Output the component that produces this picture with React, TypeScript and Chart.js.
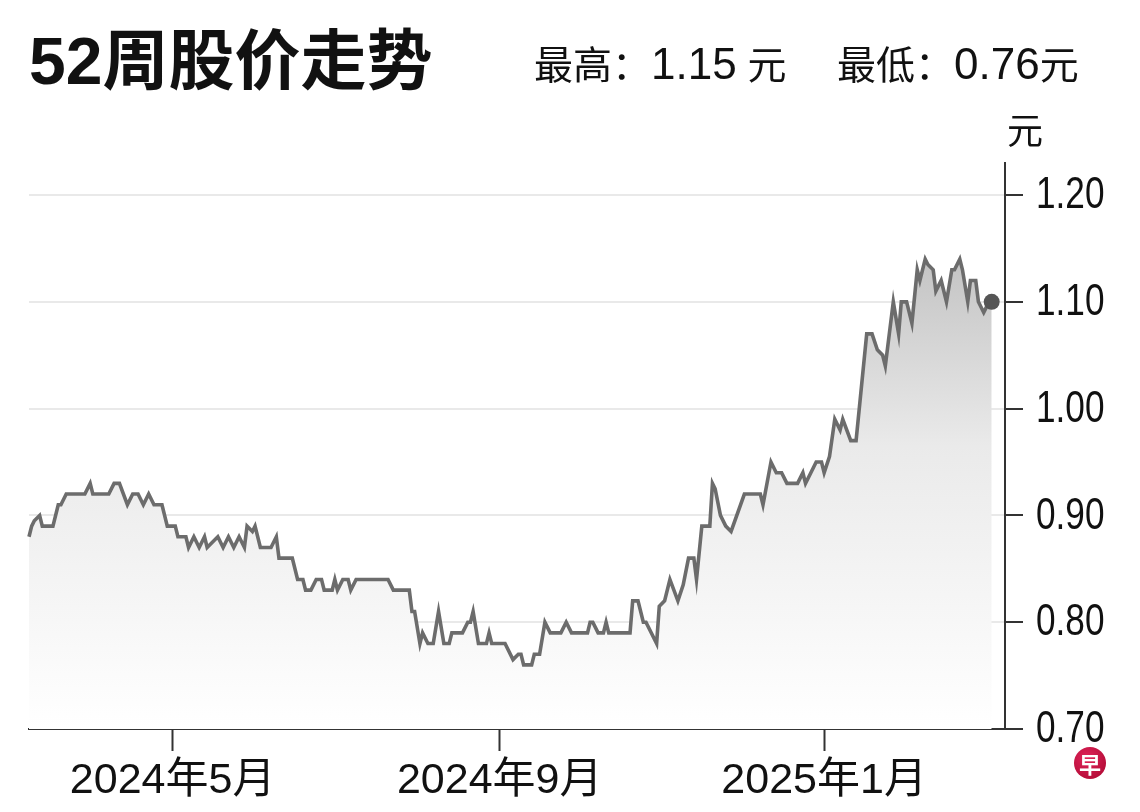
import React, { useEffect, useRef } from "react";
import { Chart, registerables } from "chart.js";

Chart.register(...registerables);

// ---- data ----
const START_DATE = "2024-03-08";
const dayOffsets = [
  0, 1, 2, 4, 5, 9, 11, 12, 14, 21, 23, 24, 30, 32, 34, 37, 39, 41, 43, 45, 47, 50, 52, 55, 56, 59, 60, 62, 64, 66, 67,
  71, 73, 75, 77, 79, 81, 82, 84, 85, 87, 91, 93, 94, 99, 101, 103, 104, 106, 108, 110, 111, 114, 115, 116, 118, 120,
  121, 123, 135, 137, 143, 144, 145, 147, 148, 150, 152, 154, 156, 158, 159, 163, 165, 166, 167, 169, 172, 173, 174,
  179, 182, 184, 185, 186, 189, 190, 192, 194, 196, 200, 202, 204, 210, 211, 212, 214, 216, 217, 218, 226, 227, 229,
  231, 232, 236, 237, 239, 241, 244, 246, 248, 250, 251, 253, 256, 257, 258, 260, 262, 264, 269, 275, 276, 279, 281,
  283, 285, 289, 291, 292, 294, 296, 298, 299, 301, 303, 305, 306, 309, 311, 315, 317, 319, 321, 322, 325, 327, 328,
  330, 332, 334, 335, 337, 338, 340, 341, 343, 345, 347, 348, 350, 351, 353, 354, 356, 357, 359, 360, 362,
];
const prices = [
  0.88, 0.89, 0.895, 0.9, 0.89, 0.89, 0.91, 0.91, 0.92, 0.92, 0.93, 0.92, 0.92, 0.93, 0.93, 0.91, 0.92, 0.92, 0.91, 0.92,
  0.91, 0.91, 0.89, 0.89, 0.88, 0.88, 0.87, 0.88, 0.87, 0.88, 0.87, 0.88, 0.87, 0.88, 0.87, 0.88, 0.87, 0.89, 0.885,
  0.89, 0.87, 0.87, 0.88, 0.86, 0.86, 0.84, 0.84, 0.83, 0.83, 0.84, 0.84, 0.83, 0.83, 0.84, 0.83, 0.84, 0.84, 0.83,
  0.84, 0.84, 0.83, 0.83, 0.81, 0.81, 0.78, 0.79, 0.78, 0.78, 0.81, 0.78, 0.78, 0.79, 0.79, 0.8, 0.8, 0.81, 0.78, 0.78,
  0.79, 0.78, 0.78, 0.765, 0.77, 0.77, 0.76, 0.76, 0.77, 0.77, 0.8, 0.79, 0.79, 0.8, 0.79, 0.79, 0.8, 0.8, 0.79, 0.79,
  0.8, 0.79, 0.79, 0.82, 0.82, 0.8, 0.8, 0.78, 0.815, 0.82, 0.84, 0.82, 0.835, 0.86, 0.86, 0.84, 0.89, 0.89, 0.93,
  0.925, 0.9, 0.89, 0.885, 0.92, 0.92, 0.91, 0.95, 0.94, 0.94, 0.93, 0.93, 0.94, 0.93, 0.94, 0.95, 0.95, 0.94, 0.955,
  0.99, 0.98, 0.99, 0.97, 0.97, 1.07, 1.07, 1.055, 1.05, 1.04, 1.1, 1.07, 1.1, 1.1, 1.08, 1.13, 1.12, 1.14, 1.135, 1.13,
  1.11, 1.12, 1.1, 1.13, 1.13, 1.14, 1.13, 1.1, 1.12, 1.12, 1.1, 1.09, 1.095, 1.1,
];
const xTickDates = ["2024-05-01", "2024-09-01", "2025-01-01"];
const xTickLabels = ["2024年5月", "2024年9月", "2025年1月"];
const yTickValues = [0.7, 0.8, 0.9, 1.0, 1.1, 1.2];
const TITLE = "52周股价走势";
const HIGH_LABEL = "最高：";
const HIGH_VALUE = "1.15";
const LOW_LABEL = "最低：";
const LOW_VALUE = "0.76";
const UNIT = "元";

const dayMs = 86400000;
const toDays = (d: string) => Math.round((Date.parse(d + "T00:00:00Z") - Date.parse(START_DATE + "T00:00:00Z")) / dayMs);
const xTickValues = xTickDates.map(toDays);

// narrow y-axis tick labels (the reference uses a condensed face)
const narrowYLabels = {
  id: "narrowYLabels",
  afterDraw(chart: any) {
    const y = chart.scales.y;
    const { ctx, chartArea } = chart;
    ctx.save();
    ctx.font = "44px 'Liberation Sans', Arial, sans-serif";
    ctx.fillStyle = "#111";
    ctx.textBaseline = "middle";
    ctx.textAlign = "left";
    for (const v of yTickValues) {
      const py = y.getPixelForValue(v);
      ctx.save();
      ctx.translate(chartArea.right + 31, py + 1);
      ctx.scale(0.8, 1);
      ctx.fillText(v.toFixed(2), 0, 0);
      ctx.restore();
    }
    ctx.restore();
  },
};

export default function App() {
  const ref = useRef<HTMLCanvasElement | null>(null);

  useEffect(() => {
    if (!ref.current) return;
    const lastIdx = prices.length - 1;
    const chart = new Chart(ref.current, {
      type: "line",
      data: {
        datasets: [
          {
            data: dayOffsets.map((d, i) => ({ x: d, y: prices[i] })),
            borderColor: "#6c6c6c",
            borderWidth: 3.6,
            tension: 0,
            fill: "start",
            backgroundColor: (c: any) => {
              const { chart: ch } = c;
              const area = ch.chartArea;
              if (!area) return "rgba(0,0,0,0)";
              const g = ch.ctx.createLinearGradient(0, area.top, 0, area.bottom);
              g.addColorStop(0, "rgb(176,176,176)");
              g.addColorStop(0.5, "rgb(234,234,234)");
              g.addColorStop(1, "rgb(255,255,255)");
              return g;
            },
            pointRadius: (c: any) => (c.dataIndex === lastIdx ? 8 : 0),
            pointHoverRadius: 0,
            pointBackgroundColor: "#555",
            pointBorderWidth: 0,
            clip: false as any,
          },
        ],
      },
      options: {
        animation: false,
        responsive: false,
        devicePixelRatio: 1,
        events: [],
        layout: { padding: { left: 29, top: 163, right: 0, bottom: 0 } },
        plugins: { legend: { display: false }, tooltip: { enabled: false } },
        scales: {
          x: {
            type: "linear",
            min: 0,
            max: 367,
            afterBuildTicks: (s: any) => {
              s.ticks = xTickValues.map((v) => ({ value: v }));
            },
            afterFit: (s: any) => {
              s.height = 83;
            },
            ticks: {
              autoSkip: false,
              maxRotation: 0,
              padding: 4,
              color: "#111",
              font: { family: "'Liberation Sans', 'Noto Sans CJK SC', sans-serif", size: 43 },
              callback: (v: any) => {
                const i = xTickValues.indexOf(Number(v));
                return i >= 0 ? xTickLabels[i] : "";
              },
            },
            grid: { drawOnChartArea: false, drawTicks: true, tickLength: 22, tickColor: "#333", tickWidth: 2 },
            border: { display: true, color: "#333", width: 2 },
          },
          y: {
            type: "linear",
            position: "right",
            min: 0.7,
            max: 1.23,
            afterBuildTicks: (s: any) => {
              s.ticks = yTickValues.map((v) => ({ value: v }));
            },
            afterFit: (s: any) => {
              s.width = 135;
            },
            ticks: { display: false },
            grid: {
              color: (c: any) => (c.tick && c.tick.value <= 0.7001 ? "rgba(0,0,0,0)" : "#e9e9e9"),
              lineWidth: 2,
              drawTicks: true,
              tickLength: 18,
              tickColor: "#333",
              tickWidth: 2,
            },
            border: { display: true, color: "#333", width: 2 },
          },
        },
      },
      plugins: [narrowYLabels],
    } as any);
    return () => chart.destroy();
  }, []);

  const cjk = "'Liberation Sans', 'Noto Sans CJK SC', sans-serif";
  const num = { fontSize: 44 };
  return (
    <div style={{ position: "absolute", left: 0, top: 0, width: 1140, height: 812, background: "#fff", overflow: "hidden" }}>
      <canvas ref={ref} width={1140} height={812} style={{ position: "absolute", left: 0, top: 0, width: 1140, height: 812 }} />
      <div style={{ position: "absolute", left: 29, top: 28, fontFamily: cjk, fontWeight: 700, fontSize: 66, lineHeight: "66px", color: "#111", whiteSpace: "nowrap" }}>
        {TITLE}
      </div>
      <div style={{ position: "absolute", left: 534, top: 42, fontFamily: cjk, fontSize: 39, lineHeight: "44px", color: "#111", whiteSpace: "nowrap" }}>
        <span>{HIGH_LABEL}</span>
        <span style={num}>{HIGH_VALUE}</span>
        <span> {UNIT}</span>
      </div>
      <div style={{ position: "absolute", left: 837, top: 42, fontFamily: cjk, fontSize: 39, lineHeight: "44px", color: "#111", whiteSpace: "nowrap" }}>
        <span>{LOW_LABEL}</span>
        <span style={num}>{LOW_VALUE}</span>
        <span>{UNIT}</span>
      </div>
      <div style={{ position: "absolute", left: 1007, top: 114, fontFamily: cjk, fontSize: 36, lineHeight: "36px", color: "#111" }}>
        {UNIT}
      </div>
      <div
        style={{
          position: "absolute", left: 1074, top: 747, width: 32, height: 32, borderRadius: "50%",
          background: "radial-gradient(circle at 40% 35%, #e0245a, #a8062e)", color: "#fff",
          fontFamily: "'Noto Sans CJK SC', sans-serif", fontWeight: 700, fontSize: 22, lineHeight: "32px", textAlign: "center",
        }}
      >
        早
      </div>
    </div>
  );
}
